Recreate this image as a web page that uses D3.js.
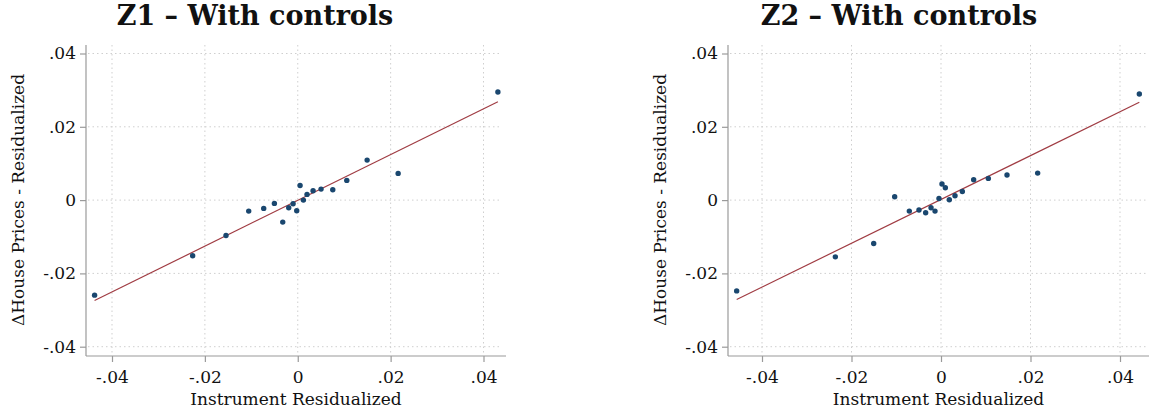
<!DOCTYPE html>
<html>
<head>
<meta charset="utf-8">
<script src="https://cdn.jsdelivr.net/npm/d3@7"></script>
<style>
  body { margin: 0; background: #fff; }
  svg { display: block; }
  text { font-family: "DejaVu Serif", "Liberation Serif", serif; fill: #111; }
</style>
</head>
<body>
<svg id="chart" width="1151" height="414"></svg>
<script>
// values
const tickVals = [-0.04, -0.02, 0, 0.02, 0.04];
const tickLabels = ["-.04", "-.02", "0", ".02", ".04"];
const titles = ["Z1 \u2013 With controls", "Z2 \u2013 With controls"];
const xTitle = "Instrument Residualized";
const yTitle = "\u0394House Prices - Residualized";

const z1X = [-0.04375, -0.02263, -0.01545, -0.01056, -0.00733, -0.00503, -0.00323, -0.00194, -0.0010, -0.00022,
             0.0005, 0.00122, 0.0020, 0.0033, 0.00502, 0.00754, 0.01056, 0.01494, 0.02162, 0.0431];
const z1Y = [-0.02594, -0.0152, -0.00965, -0.0030, -0.00227, -0.0009, -0.0060, -0.0021, -0.0010, -0.0029,
             0.0040, 0.0000, 0.00155, 0.00255, 0.0030, 0.00282, 0.00537, 0.01092, 0.00728, 0.0295];
const z1FitX = [-0.04375, 0.0431];
const z1FitY = [-0.0274, 0.02685];

const z2X = [-0.04566, -0.02361, -0.01504, -0.01035, -0.00708, -0.00492, -0.00343, -0.00223, -0.00134, -0.00045,
             0.00022, 0.00097, 0.00186, 0.00313, 0.00477, 0.0073, 0.01058, 0.01475, 0.0216, 0.04432];
const z2Y = [-0.02477, -0.01548, -0.01183, 0.0009, -0.0030, -0.0027, -0.00346, -0.0021, -0.0030, 0.00045,
             0.0044, 0.00337, 0.0001, 0.00118, 0.00236, 0.00555, 0.00592, 0.00683, 0.00737, 0.02895];
const z2FitX = [-0.04566, 0.04432];
const z2FitY = [-0.02712, 0.02668];

const svg = d3.select("#chart");

const panels = [
  {title: titles[0], xs: z1X, ys: z1Y, fx: z1FitX, fy: z1FitY,
   g0: 112, g1: 483.5, axisL: 86, axisR: 506, gridR: 502, titleX: 255},
  {title: titles[1], xs: z2X, ys: z2Y, fx: z2FitX, fy: z2FitY,
   g0: 762, g1: 1120, axisL: 728, axisR: 1149, gridR: 1148, titleX: 899}
];

const axisTop = 45, axisBot = 356;
const y = d3.scaleLinear([-0.04, 0.04], [346.7, 53.5]);

panels.forEach(function(p){
  const x = d3.scaleLinear([-0.04, 0.04], [p.g0, p.g1]);
  const g = svg.append("g");

  // grid
  g.selectAll(".hgrid").data(tickVals).enter().append("line")
    .attr("x1", p.axisL + 2).attr("x2", p.gridR)
    .attr("y1", d => y(d)).attr("y2", d => y(d))
    .attr("stroke", "#cfcfcf").attr("stroke-width", 1).attr("stroke-dasharray", "1.5,3");
  g.selectAll(".vgrid").data(tickVals).enter().append("line")
    .attr("x1", d => x(d)).attr("x2", d => x(d))
    .attr("y1", axisTop).attr("y2", axisBot - 2)
    .attr("stroke", "#cfcfcf").attr("stroke-width", 1).attr("stroke-dasharray", "1.5,3");

  // axes
  const yAxis = d3.axisLeft(y).tickValues(tickVals).tickFormat((d, i) => tickLabels[i])
    .tickSize(6).tickPadding(4);
  const ya = g.append("g").attr("transform", "translate(" + p.axisL + ",0)").call(yAxis);
  const xAxis = d3.axisBottom(x).tickValues(tickVals).tickFormat((d, i) => tickLabels[i])
    .tickSize(6).tickPadding(9);
  const xa = g.append("g").attr("transform", "translate(0," + axisBot + ")").call(xAxis);
  [ya, xa].forEach(function(a){
    a.select(".domain").remove();
    a.selectAll(".tick line").attr("stroke", "#9a9a9a").attr("stroke-width", 1.2);
    a.selectAll(".tick text").style("font-size", "17px").attr("fill", "#111");
  });
  g.append("line").attr("x1", p.axisL).attr("x2", p.axisL)
    .attr("y1", axisTop).attr("y2", axisBot)
    .attr("stroke", "#9a9a9a").attr("stroke-width", 1.2);
  g.append("line").attr("x1", p.axisL).attr("x2", p.axisR)
    .attr("y1", axisBot).attr("y2", axisBot)
    .attr("stroke", "#9a9a9a").attr("stroke-width", 1.2);

  // fit line
  const fit = p.fx.map((v, i) => [v, p.fy[i]]);
  g.append("path").datum(fit)
    .attr("d", d3.line().x(d => x(d[0])).y(d => y(d[1])))
    .attr("fill", "none").attr("stroke", "#a03c43").attr("stroke-width", 1.2);

  // points
  const pts = p.xs.map((v, i) => [v, p.ys[i]]);
  g.selectAll(".pt").data(pts).enter().append("circle")
    .attr("cx", d => x(d[0])).attr("cy", d => y(d[1])).attr("r", 2.7)
    .attr("fill", "#1a476f");

  // titles
  g.append("text").attr("x", p.titleX).attr("y", 25).attr("text-anchor", "middle")
    .style("font-size", "27px").style("font-weight", "bold").text(p.title);
  g.append("text").attr("x", (p.axisL + p.axisR) / 2).attr("y", 405).attr("text-anchor", "middle")
    .style("font-size", "17px").text(xTitle);
  g.append("text").attr("transform", "translate(" + (p.axisL - 62) + ",200) rotate(-90)")
    .attr("text-anchor", "middle").style("font-size", "17px").text(yTitle);
});
</script>
</body>
</html>
